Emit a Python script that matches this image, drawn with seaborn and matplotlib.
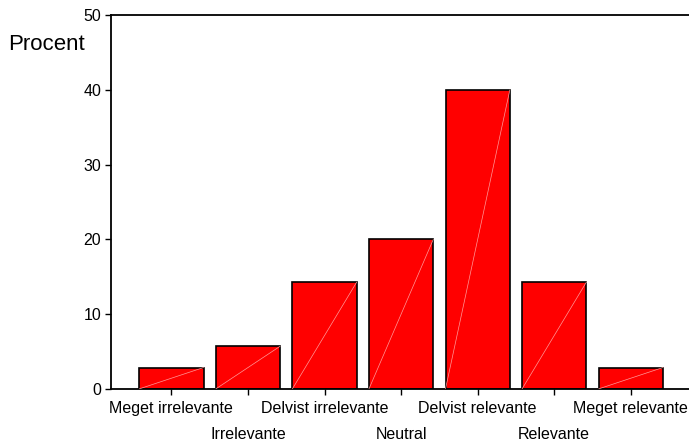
import matplotlib
matplotlib.use("Agg")
import matplotlib.pyplot as plt
import seaborn as sns
import pandas as pd

# Answer categories and share of respondents (percent)
categories = ["Meget irrelevante", "Irrelevante", "Delvist irrelevante", "Neutral",
              "Delvist relevante", "Relevante", "Meget relevante"]
percent = [2.86, 5.71, 14.29, 20.0, 40.0, 14.29, 2.86]
y_ticks = [0, 10, 20, 30, 40, 50]

df = pd.DataFrame({"Kategori": categories, "Procent": percent})

sns.set_style("white")
plt.rcParams["font.family"] = ["Liberation Sans", "DejaVu Sans"]
plt.rcParams["text.color"] = "black"
plt.rcParams["xtick.color"] = "black"
plt.rcParams["ytick.color"] = "black"

fig = plt.figure(figsize=(6.89, 4.47), dpi=100)
ax = fig.add_axes([0.161, 0.13, 0.839, 0.836])

bar_w = 0.84
sns.barplot(data=df, x="Kategori", y="Procent", color="#ff0000", saturation=1,
            edgecolor="black", linewidth=1.2, width=bar_w, ax=ax)

# faint diagonal line in each bar (SPSS rendering artefact)
for i, v in enumerate(percent):
    ax.plot([i - bar_w / 2, i + bar_w / 2], [0, v], color="#ff9a9a", lw=0.5, zorder=3)

ax.set_xlim(-0.79, 6.76)
ax.set_ylim(0, 50)
ax.set_yticks(y_ticks)
ax.set_yticklabels([str(t) for t in y_ticks], fontsize=11.5)

# labels alternate between two rows: even categories on top row, odd below
even = list(range(0, len(categories), 2))
odd = list(range(1, len(categories), 2))
ax.set_xticks(even)
ax.set_xticklabels([categories[i] for i in even], fontsize=11.5)
ax.set_xticks(odd, minor=True)
ax.set_xticklabels([categories[i] for i in odd], minor=True, fontsize=11.5)

ax.tick_params(axis="both", which="both", direction="out", length=4, width=1,
               color="black", labelcolor="black", bottom=True, left=True)
ax.tick_params(axis="x", which="major", pad=4.5)
ax.tick_params(axis="x", which="minor", pad=23.5)
ax.tick_params(axis="y", pad=3)
ax.set_xlabel("")
ax.set_ylabel("")

for side in ["left", "bottom", "top"]:
    ax.spines[side].set_visible(True)
    ax.spines[side].set_color("black")
    ax.spines[side].set_linewidth(1.3)
ax.spines["right"].set_visible(False)

fig.text(8 / 689, 1 - 45 / 447, "Procent", fontsize=16, color="black",
         ha="left", va="center")

fig.savefig("out.png", dpi=100)
